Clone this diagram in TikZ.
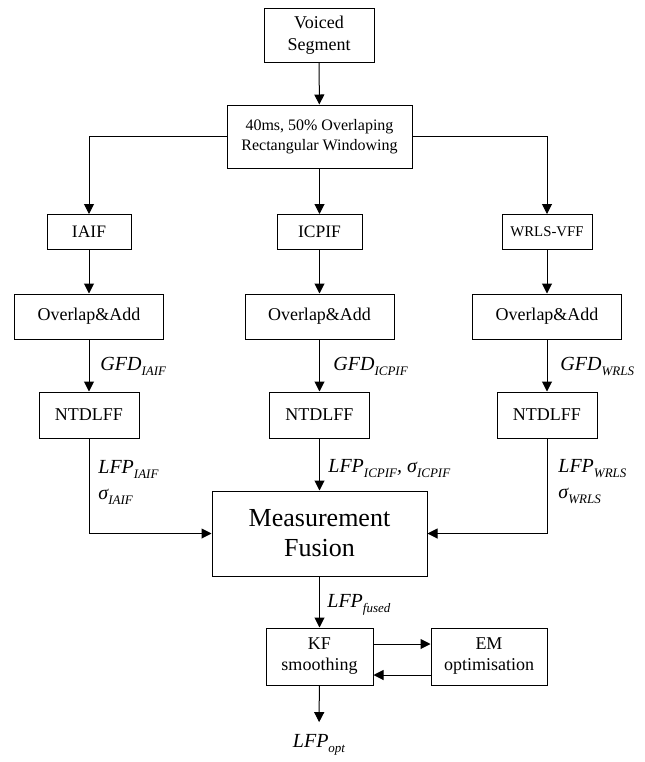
\documentclass[tikz,border=0pt]{standalone}
\usepackage{fontspec}
\setmainfont{Liberation Serif}
\usepackage{tikz}
\usetikzlibrary{arrows.meta}
\newcommand{\lsub}[1]{\raisebox{-0.55ex}{\fontsize{6.5}{7}\selectfont #1}}
\tikzset{blk/.style={draw, line width=0.5pt, align=center, inner sep=1pt,
   font=\fontsize{9}{11}\selectfont},
 lbl/.style={inner sep=0pt, align=left, font=\fontsize{10}{13}\selectfont\itshape},
 flow/.style={line width=0.5pt, -{Triangle[length=5pt,width=5pt]}},
 }

\begin{document}
\begin{tikzpicture}[x=0.5pt, y=-0.5pt]
        \useasboundingbox (0,0) rectangle (644,762);
        \node[blk, minimum width=55pt, minimum height=27pt] (vs) at (319, 35) {Voiced\\Segment};
        \node[blk, minimum width=92.5pt, minimum height=31.5pt, font=\fontsize{8}{10}\selectfont] (win) at (319.5, 136.5) {40ms, 50\% Overlaping\\Rectangular Windowing};
        \node[blk, minimum width=42pt, minimum height=17.5pt, font=\fontsize{8.75}{11}\selectfont] (iaif) at (89, 232) {IAIF};
        \node[blk, minimum width=42.5pt, minimum height=17.5pt, font=\fontsize{8.75}{11}\selectfont] (icpif) at (319.5, 232) {ICPIF};
        \node[blk, minimum width=45pt, minimum height=17.5pt, font=\fontsize{7.4}{9}\selectfont] (wrls) at (547, 232) {WRLS-VFF};
        \node[blk, minimum width=74.5pt, minimum height=22.5pt] (olaA) at (89, 316.5) {Overlap\&Add};
        \node[blk, minimum width=74.5pt, minimum height=22.5pt] (olaB) at (319.5, 316.5) {Overlap\&Add};
        \node[blk, minimum width=74.5pt, minimum height=22.5pt] (olaC) at (547, 316.5) {Overlap\&Add};
        \node[blk, minimum width=50pt, minimum height=23pt] (ntA) at (89, 415) {NTDLFF};
        \node[blk, minimum width=50pt, minimum height=23pt] (ntB) at (319.5, 415) {NTDLFF};
        \node[blk, minimum width=50pt, minimum height=23pt] (ntC) at (547, 415) {NTDLFF};
        \node[blk, minimum width=107.5pt, minimum height=42.5pt, font=\fontsize{13}{15}\selectfont] (fus) at (319.5, 533.5) {Measurement\\Fusion};
        \node[blk, minimum width=53.5pt, minimum height=28.5pt, font=\fontsize{9}{10.5}\selectfont] (kf) at (319.5, 656.5) {KF\\smoothing};
        \node[blk, minimum width=58pt, minimum height=28.5pt, font=\fontsize{9}{10.5}\selectfont] (em) at (489, 656.5) {EM\\optimisation};
        \node[lbl, inner ysep=6pt] (opt) at (319, 745) {LFP\lsub{opt}};
        % edge labels
        \node[lbl, anchor=base west] at (100, 370) {GFD\lsub{IAIF}};
        \node[lbl, anchor=base west] at (333, 370) {GFD\lsub{ICPIF}};
        \node[lbl, anchor=base west] at (560, 370) {GFD\lsub{WRLS}};
        \node[lbl, anchor=west] at (98, 482) {LFP\lsub{IAIF}\\σ\lsub{IAIF}};
        \node[lbl, anchor=base west] at (328, 472) {LFP\lsub{ICPIF}, σ\lsub{ICPIF}};
        \node[lbl, anchor=west] at (558, 482) {LFP\lsub{WRLS}\\σ\lsub{WRLS}};
        \node[lbl, anchor=base west] at (327, 607) {LFP\lsub{fused}};
        % connectors
        \draw[flow] (vs) -- (win);
        \draw[flow] (win.west) -| (iaif);
        \draw[flow] (win) -- (icpif);
        \draw[flow] (win.east) -| (wrls);
        \draw[flow] (iaif) -- (olaA);
        \draw[flow] (icpif) -- (olaB);
        \draw[flow] (wrls) -- (olaC);
        \draw[flow] (olaA) -- (ntA);
        \draw[flow] (olaB) -- (ntB);
        \draw[flow] (olaC) -- (ntC);
        \draw[flow] (ntA) |- (fus);
        \draw[flow] (ntB) -- (fus);
        \draw[flow] (ntC) |- (fus);
        \draw[flow] (fus) -- (kf);
        \draw[flow] (kf.east |- 0,644) -- (em.west |- 0,644);
        \draw[flow] (em.west |- 0,675) -- (kf.east |- 0,675);
        \draw[flow] (kf) -- (opt);
    \end{tikzpicture}
\end{document}
